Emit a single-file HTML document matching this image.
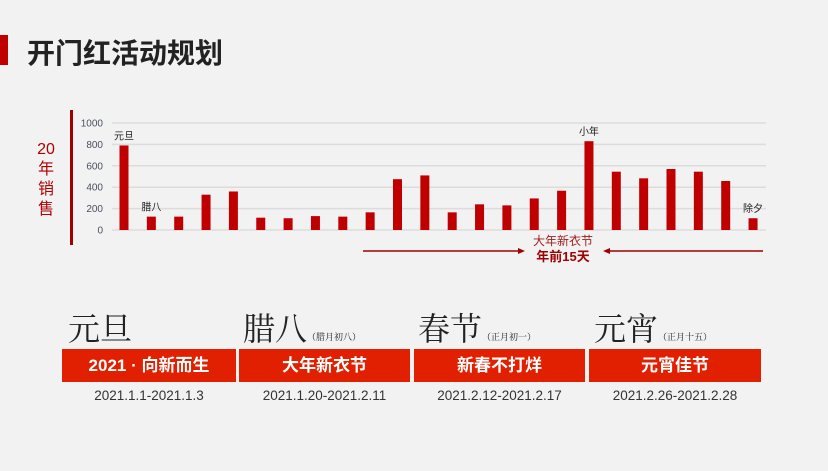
<!DOCTYPE html>
<html><head><meta charset="utf-8"><style>
body{margin:0;width:828px;height:471px;background:#f2f2f2;overflow:hidden;font-family:"Liberation Sans","Noto Sans CJK SC",sans-serif;position:relative}
.abs{position:absolute}
.box{position:absolute;top:349px;height:33px;background:#e02000;color:#fff;font-weight:bold;font-size:17px;line-height:33px;text-align:center}
.date{position:absolute;top:388px;font-size:13.5px;color:#333;text-align:center}
.cal{position:absolute;top:304px;font-family:"Noto Serif CJK SC",serif;font-size:32px;color:#222;font-weight:normal}
.cal small{font-size:9px;font-weight:normal}
</style></head><body>
<div class="abs" style="left:0;top:35px;width:8px;height:30px;background:#c00000"></div>
<div class="abs" style="left:27px;top:32px;font-size:28px;font-weight:bold;color:#222">开门红活动规划</div>
<div class="abs" style="left:70px;top:110px;width:3px;height:135px;background:#a00000"></div>
<div class="abs" style="left:34px;top:140px;width:24px;font-size:16px;color:#b00000;text-align:center;line-height:20px">20<br>年<br>销<br>售</div>
<svg class="abs" style="left:0;top:0" width="828" height="300" id="chart"></svg>
<div class="cal" style="left:68px">元旦</div>
<div class="cal" style="left:243px">腊八<small>（腊月初八）</small></div>
<div class="cal" style="left:418px">春节<small>（正月初一）</small></div>
<div class="cal" style="left:594px">元宵<small>（正月十五）</small></div>
<div class="box" style="left:62px;width:174px">2021 · 向新而生</div>
<div class="box" style="left:239px;width:171px">大年新衣节</div>
<div class="box" style="left:414px;width:171px">新春不打烊</div>
<div class="box" style="left:589px;width:172px">元宵佳节</div>
<div class="date" style="left:62px;width:174px">2021.1.1-2021.1.3</div>
<div class="date" style="left:239px;width:171px">2021.1.20-2021.2.11</div>
<div class="date" style="left:414px;width:171px">2021.2.12-2021.2.17</div>
<div class="date" style="left:589px;width:172px">2021.2.26-2021.2.28</div>
<script>
const values=[790,125,125,330,360,115,110,130,125,165,475,510,165,240,230,295,367,830,545,483,570,545,458,110];
const ticks=[0,200,400,600,800,1000];
const notes=[[0,"元旦"],[1,"腊八"],[17,"小年"],[23,"除夕"]];
const svg=document.getElementById('chart');const NS='http://www.w3.org/2000/svg';
const y=v=>230-v*0.107;const x=i=>124+i*27.35;
function mk(t,a){const e=document.createElementNS(NS,t);for(const k in a)e.setAttribute(k,a[k]);svg.appendChild(e);return e;}
ticks.forEach(t=>{const l=mk('line',{x1:112,x2:766,y1:y(t),y2:y(t),stroke:'#dcdcdc','stroke-width':1.5});


const tx=mk('text',{x:103,y:y(t)+3.5,'text-anchor':'end','font-size':10,fill:'#4a5060'});tx.textContent=t;

});
values.forEach((v,i)=>{const r=mk('rect',{x:x(i)-4.5,y:y(v),width:9,height:230-y(v),fill:'#c00000'});

});
notes.forEach(([i,s])=>{const t=mk('text',{x:x(i),y:y(values[i])-6,'text-anchor':'middle','font-size':10,fill:'#222'});t.textContent=s;

});
const a1=mk('line',{x1:363,x2:522,y1:251,y2:251,stroke:'#a00000','stroke-width':1.5});


mk('polygon',{points:'525,251 518,248 518,254',fill:'#a00000'});
const a2=mk('line',{x1:606,x2:763,y1:251,y2:251,stroke:'#a00000','stroke-width':1.5});


mk('polygon',{points:'603,251 610,248 610,254',fill:'#a00000'});
const t1=mk('text',{x:563,y:245,'text-anchor':'middle','font-size':12,fill:'#a02020'});t1.textContent='大年新衣节';


const t2=mk('text',{x:563,y:261,'text-anchor':'middle','font-size':13,'font-weight':'bold',fill:'#a00000'});t2.textContent='年前15天';


</script>
</body></html>
